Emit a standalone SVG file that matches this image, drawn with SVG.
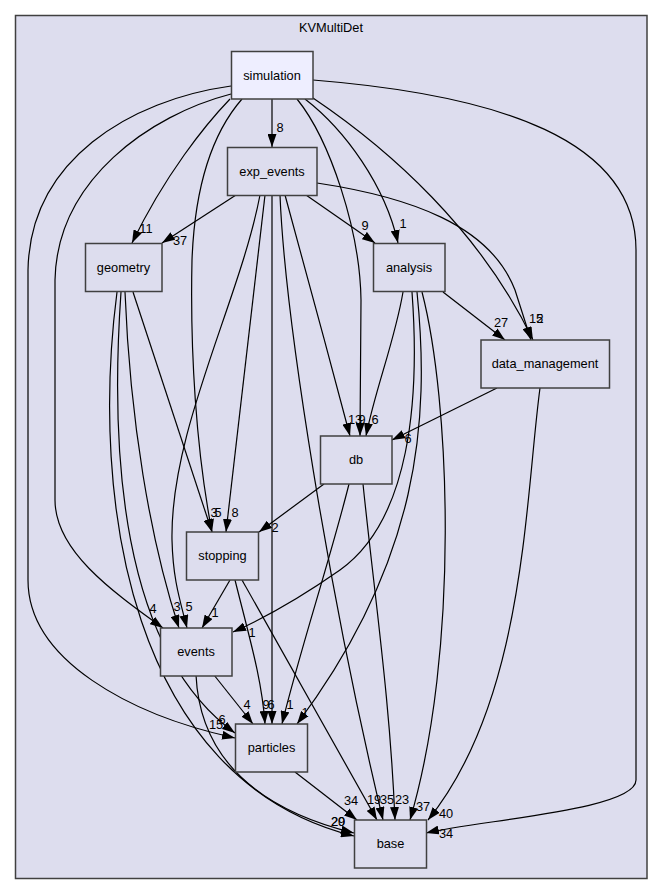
<svg xmlns="http://www.w3.org/2000/svg" width="664" height="895" viewBox="0 0 664 895">
<defs>
<style>
.t{font-family:"Liberation Sans",Arial,sans-serif;font-size:12.8px;fill:#000;text-anchor:middle}
.l{font-family:"Liberation Sans",Arial,sans-serif;font-size:12.8px;fill:#000;text-anchor:middle}
.n{fill:#ddddee;stroke:#404040;stroke-width:1.5}
.e{fill:none;stroke:#000;stroke-width:1.2;marker-end:url(#ah)}
</style>
<marker id="ah" viewBox="0 0 13 9" refX="13" refY="4.5" markerWidth="13" markerHeight="9" orient="auto" markerUnits="userSpaceOnUse"><path d="M0,0 L13,4.5 L0,9 z" fill="#000"/></marker>
</defs>
<rect width="664" height="895" fill="#fff"/>
<g id="cluster_KVMultiDet">
<rect x="15.5" y="15.5" width="631.5" height="863" fill="#ddddee" stroke="#404040" stroke-width="1.5"/>
<text class="t" x="331" y="31.5">KVMultiDet</text>
</g>
<g id="edges">
<path class="e" d="M272,99 L272,147"/>
<path class="e" d="M230,99 C205,125 165,175 132,243"/>
<path class="e" d="M231,94 C150,115 57,180 55,280 L55,500 C55,550 110,590 163,628"/>
<path class="e" d="M231,86 C130,100 30,160 28,270 L28,580 C28,660 130,715 235,738"/>
<path class="e" d="M242,99 C215,130 195,180 192,260 C190,350 196,450 212,532"/>
<path class="e" d="M297,99 C330,140 360,230 361,300 L360,436"/>
<path class="e" d="M305,99 C345,130 385,185 398,243"/>
<path class="e" d="M313,98 C390,150 480,230 533,340"/>
<path class="e" d="M313,80 C500,95 636,140 636,250 L636,780 C636,810 480,820 426,833"/>
<path class="e" d="M236,195 L162,243"/>
<path class="e" d="M306,195 L375,243"/>
<path class="e" d="M317,183 C410,197 490,225 515,290 L531,340"/>
<path class="e" d="M285,195 C300,250 330,360 350,436"/>
<path class="e" d="M265,195 L226,532"/>
<path class="e" d="M260,195 C240,300 170,430 172,540 C173,580 180,600 187,628"/>
<path class="e" d="M272,195 L272,724"/>
<path class="e" d="M280,195 C285,320 330,600 383,820"/>
<path class="e" d="M133,292 L212,532"/>
<path class="e" d="M125,292 C130,420 150,540 179,628"/>
<path class="e" d="M121,292 C110,450 120,650 235,733"/>
<path class="e" d="M117,292 C90,500 130,780 354,836"/>
<path class="e" d="M214,675 L253,724"/>
<path class="e" d="M196,675 C200,760 260,810 354,833"/>
<path class="e" d="M230,580 L202,628"/>
<path class="e" d="M235,580 C250,640 262,680 265,724"/>
<path class="e" d="M242,580 L377,820"/>
<path class="e" d="M324,484 L259,532"/>
<path class="e" d="M349,484 C330,560 300,650 282,724"/>
<path class="e" d="M363,484 C375,600 390,700 395,820"/>
<path class="e" d="M443,292 L505,340"/>
<path class="e" d="M403,292 C395,340 375,390 366,436"/>
<path class="e" d="M412,292 C420,400 410,520 340,570 C300,598 260,620 233,632"/>
<path class="e" d="M417,292 C430,420 420,560 297,724"/>
<path class="e" d="M422,292 C450,400 460,650 410,820"/>
<path class="e" d="M497,388 L392,440"/>
<path class="e" d="M540,388 C525,500 525,700 428,820"/>
<path class="e" d="M295,772 L357,820"/>
</g>
<g id="edge_labels">
<text class="l" x="280" y="132">8</text>
<text class="l" x="146" y="233">11</text>
<text class="l" x="153" y="613">4</text>
<text class="l" x="222" y="724">6</text>
<text class="l" x="216" y="729">15</text>
<text class="l" x="218" y="517">5</text>
<text class="l" x="362" y="424">9</text>
<text class="l" x="403" y="228">1</text>
<text class="l" x="536" y="323">15</text>
<text class="l" x="540" y="323">2</text>
<text class="l" x="446" y="838">34</text>
<text class="l" x="180" y="245">37</text>
<text class="l" x="365" y="230">9</text>
<text class="l" x="355" y="424">13</text>
<text class="l" x="235" y="517">8</text>
<text class="l" x="189" y="611">5</text>
<text class="l" x="271" y="709">6</text>
<text class="l" x="387" y="804">35</text>
<text class="l" x="214" y="517">3</text>
<text class="l" x="177" y="611">3</text>
<text class="l" x="338" y="826">29</text>
<text class="l" x="338" y="826">20</text>
<text class="l" x="247" y="709">4</text>
<text class="l" x="215" y="617">1</text>
<text class="l" x="266" y="709">9</text>
<text class="l" x="374" y="804">19</text>
<text class="l" x="275" y="532">2</text>
<text class="l" x="290" y="709">1</text>
<text class="l" x="402" y="804">23</text>
<text class="l" x="501" y="327">27</text>
<text class="l" x="375" y="424">6</text>
<text class="l" x="252" y="637">1</text>
<text class="l" x="305" y="717">1</text>
<text class="l" x="423" y="811">37</text>
<text class="l" x="408" y="443">6</text>
<text class="l" x="446" y="818">40</text>
<text class="l" x="351" y="805">34</text>
</g>
<g id="node_simulation"><rect x="231.5" y="51.5" width="81.5" height="47.5" fill="#eeeeff" stroke="#404040" stroke-width="1.5"/><text class="t" x="272" y="79.5">simulation</text></g>
<g id="node_exp_events"><rect class="n" x="227.5" y="147.5" width="89.5" height="48"/><text class="t" x="272" y="175.5">exp_events</text></g>
<g id="node_geometry"><rect class="n" x="85.5" y="243.5" width="76.5" height="48"/><text class="t" x="123.5" y="271.5">geometry</text></g>
<g id="node_analysis"><rect class="n" x="373.5" y="243.5" width="71.5" height="48"/><text class="t" x="409" y="271.5">analysis</text></g>
<g id="node_data_management"><rect class="n" x="481" y="340" width="128.5" height="48"/><text class="t" x="545" y="368">data_management</text></g>
<g id="node_db"><rect class="n" x="320.5" y="436" width="71.5" height="48"/><text class="t" x="356" y="464">db</text></g>
<g id="node_stopping"><rect class="n" x="186.5" y="532" width="72" height="48"/><text class="t" x="222.5" y="560">stopping</text></g>
<g id="node_events"><rect class="n" x="160.5" y="628" width="71.5" height="48"/><text class="t" x="196" y="656">events</text></g>
<g id="node_particles"><rect class="n" x="235.5" y="724" width="72" height="48"/><text class="t" x="271.5" y="752">particles</text></g>
<g id="node_base"><rect class="n" x="354.5" y="820" width="72" height="48"/><text class="t" x="390.5" y="848">base</text></g>
</svg>
